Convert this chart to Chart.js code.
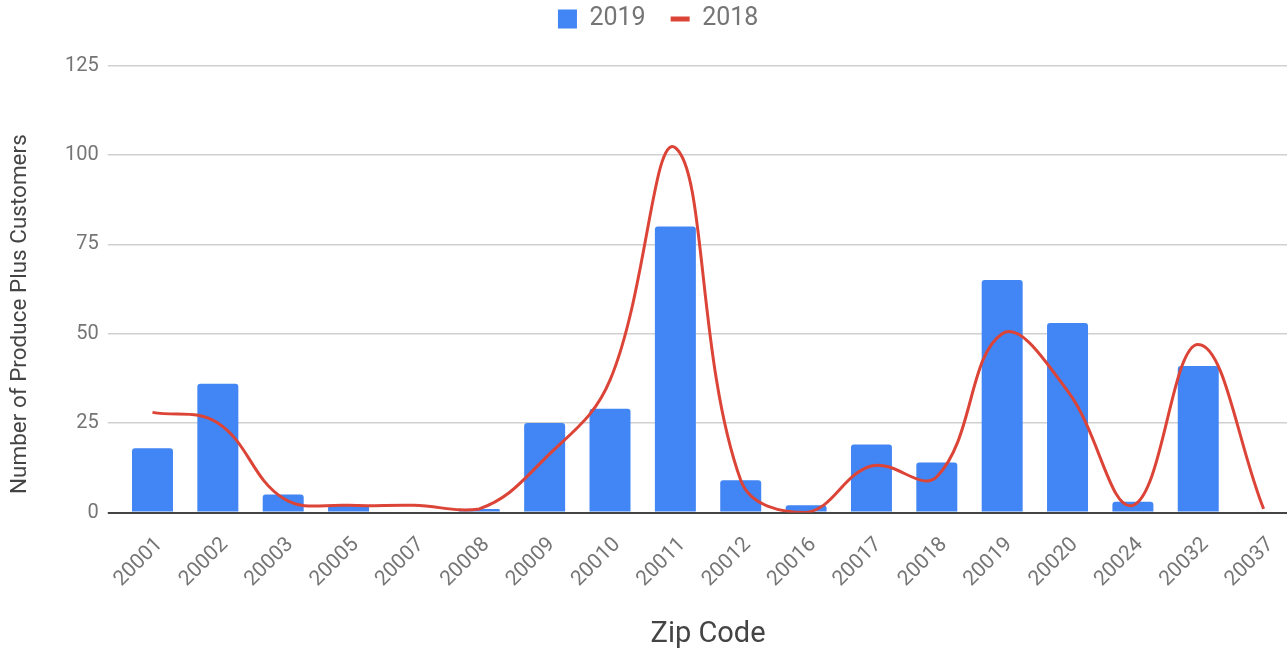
<!DOCTYPE html>
<html>
<head>
<meta charset="utf-8">
<script src="https://cdn.jsdelivr.net/npm/chart.js@4/dist/chart.umd.min.js"></script>
<style>
  html, body { margin: 0; padding: 0; background: #fff; overflow: hidden; }
  #wrap { width: 1317px; height: 650px; }
</style>
</head>
<body>
<div id="wrap"><canvas id="chart" width="1317" height="650"></canvas></div>
<script>
const zipCodes = ['20001', '20002', '20003', '20005', '20007', '20008', '20009', '20010', '20011',
  '20012', '20016', '20017', '20018', '20019', '20020', '20024', '20032', '20037'];
const customers2019 = [18, 36, 5, 2, 0, 1, 25, 29, 80, 9, 2, 19, 14, 65, 53, 3, 41, 0];
const customers2018 = [28, 25, 4, 2, 2, 1, 15, 37, 102, 9, 0, 13, 10, 50, 34, 2, 47, 1];
const yTicks = [0, 25, 50, 75, 100, 125];

const BLUE = '#4285F4';
const RED = '#DB4437';
const FONT = 'Roboto, "Noto Sans", sans-serif';

// google charts leaves a gap under the legend, chart.js does not
const legendSpacer = {
  id: 'legendSpacer',
  beforeInit(chart) {
    const fitLegend = chart.legend.fit;
    chart.legend.fit = function () {
      fitLegend.bind(chart.legend)();
      this.height = 84;
    };
  },
};

new Chart(document.getElementById('chart'), {
  type: 'bar',
  data: {
    labels: zipCodes,
    datasets: [
      {
        label: '2019',
        data: customers2019,
        backgroundColor: BLUE,
        borderWidth: 0,
        borderRadius: 3,
        borderSkipped: 'start',
        categoryPercentage: 1,
        barPercentage: 0.627,
        order: 1,
      },
      {
        type: 'line',
        label: '2018',
        data: customers2018,
        borderColor: RED,
        borderWidth: 3,
        pointRadius: 0,
        tension: 0.4,
        fill: false,
        order: 0,
      },
    ],
  },
  options: {
    responsive: false,
    animation: false,
    layout: { padding: { top: -18.5, left: 20, right: 20.7, bottom: 0 } },
    plugins: {
      tooltip: { enabled: false },
      legend: {
        position: 'top',
        labels: {
          font: { family: FONT, size: 25 },
          color: '#757575',
          usePointStyle: true,
          pointStyleWidth: 19,
          boxHeight: 19,
          padding: 25,
          generateLabels(chart) {
            const items = Chart.defaults.plugins.legend.labels.generateLabels(chart);
            items.forEach((item) => {
              if (item.datasetIndex === 1) {
                item.pointStyle = 'line';
                item.lineWidth = 5;
                item.strokeStyle = RED;
              } else {
                item.pointStyle = 'rect';
                item.lineWidth = 0;
                item.fillStyle = BLUE;
              }
            });
            return items;
          },
          sort: (a, b) => a.datasetIndex - b.datasetIndex,
        },
      },
    },
    scales: {
      x: {
        offset: true,
        grid: { display: false, drawTicks: false },
        border: { display: false },
        ticks: {
          font: { family: FONT, size: 21 },
          color: '#757575',
          autoSkip: false,
          minRotation: 45,
          maxRotation: 45,
          padding: 20,
          labelOffset: 7,
        },
        title: {
          display: true,
          text: 'Zip Code',
          font: { family: FONT, size: 29 },
          color: '#444',
          padding: { top: 0, bottom: -2 },
        },
        afterFit(scale) { scale.height = 137.5; },
      },
      y: {
        min: 0,
        max: 125,
        afterBuildTicks(scale) { scale.ticks = yTicks.map((v) => ({ value: v })); },
        grid: {
          color: (c) => (c.tick && c.tick.value === 0 ? '#444' : '#d0d0d0'),
          lineWidth: (c) => (c.tick && c.tick.value === 0 ? 2 : 1.5),
          tickLength: 12,
        },
        border: { display: false },
        ticks: {
          font: { family: FONT, size: 20 },
          color: '#757575',
          padding: 9,
        },
        title: {
          display: true,
          text: 'Number of Produce Plus Customers         ',
          font: { family: FONT, size: 22.5 },
          color: '#444',
          padding: { top: -13.5, bottom: 0 },
        },
        afterFit(scale) { scale.width = 99.8; },
      },
    },
  },
  plugins: [legendSpacer],
});
</script>
</body>
</html>
